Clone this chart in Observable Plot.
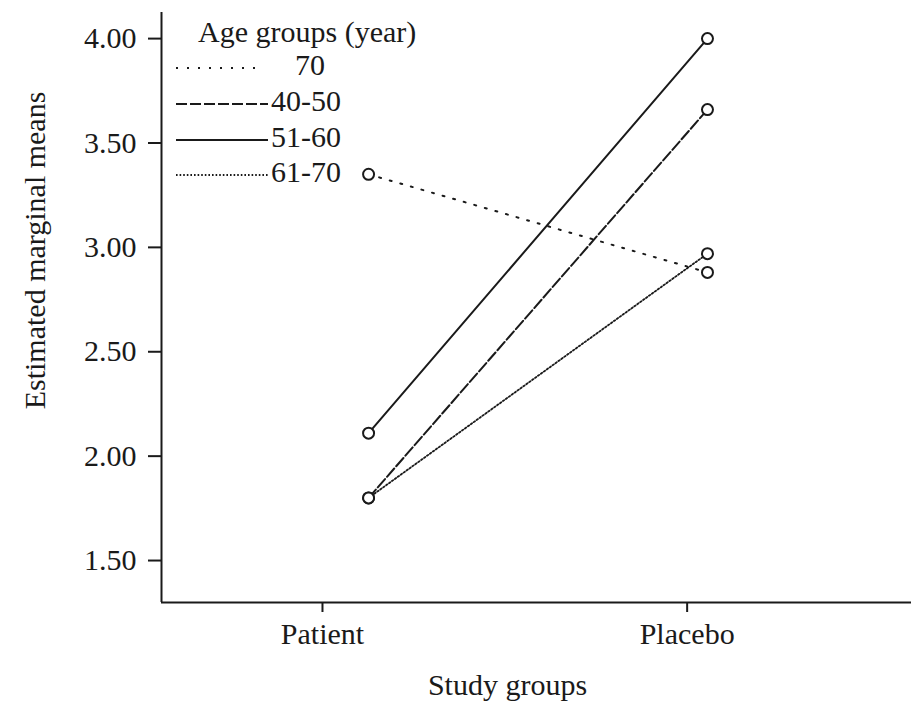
<!DOCTYPE html>
<html><head><meta charset="utf-8">
<script src="https://cdn.jsdelivr.net/npm/d3@7"></script>
<script src="https://cdn.jsdelivr.net/npm/@observablehq/plot@0.6"></script>
<style>
body{margin:0;background:#fff;}
#wrap{position:relative;width:911px;height:707px;font-family:"Liberation Serif","Times New Roman",serif;}
#legend{position:absolute;left:0;top:0;pointer-events:none;}
</style></head><body><div id="wrap"></div>
<script>
// ---- data ----
const studyGroups = ["Patient", "Placebo"];
const ageGroups = ["70", "40-50", "51-60", "61-70"];
const patientMeans = [3.35, 1.80, 2.11, 1.80];
const placeboMeans = [2.88, 3.66, 4.00, 2.97];
const yTickValues = [1.5, 2.0, 2.5, 3.0, 3.5, 4.0];
const legendTitle = "Age groups (year)";
const xLabel = "Study groups";
const yLabel = "Estimated marginal means";

// ---- styles ----
const ink = "#1a1a1a";
const FONT = '"Liberation Serif","Times New Roman",serif';
const FS = 30;
const seriesStyle = {
  "70":    {dash: "2,9",   width: 2},
  "40-50": {dash: "11,3",  width: 2},
  "51-60": {dash: null,    width: 2},
  "61-70": {dash: "1.6,2", width: 1.8}
};

const rows = [];
ageGroups.forEach((a, i) => {
  rows.push({age: a, group: 0, mean: patientMeans[i]});
  rows.push({age: a, group: 1, mean: placeboMeans[i]});
});

const xDomain = [-0.611, 1.602];
const yDomain = [1.299, 4.125];
const xTickPos = [-0.136, 0.94]; // SPSS axis tick placement relative to the plotted points

const lines = ageGroups.map(a => Plot.line(rows.filter(r => r.age === a), {
  x: "group", y: "mean", stroke: ink,
  strokeWidth: seriesStyle[a].width,
  strokeDasharray: seriesStyle[a].dash || undefined
}));

const chart = Plot.plot({
  width: 911, height: 707,
  marginLeft: 161, marginRight: 0, marginTop: 12, marginBottom: 105,
  style: {fontFamily: FONT, fontSize: FS + "px", color: ink, background: "#fff"},
  x: {domain: xDomain},
  y: {domain: yDomain},
  marks: [
    Plot.ruleX([xDomain[0]], {stroke: ink, strokeWidth: 2}),
    Plot.ruleY([yDomain[0]], {stroke: ink, strokeWidth: 2}),
    Plot.axisY(yTickValues, {tickFormat: d3.format(".2f"), tickSize: 13, tickPadding: 12,
      strokeWidth: 2, stroke: ink, fill: ink, fontSize: FS, label: null}),
    Plot.axisX(xTickPos, {tickFormat: d => studyGroups[xTickPos.indexOf(d)], tickSize: 10, tickPadding: 10,
      strokeWidth: 2, stroke: ink, fill: ink, fontSize: FS, label: null}),
    ...lines,
    Plot.dot(rows, {x: "group", y: "mean", r: 5.5, stroke: ink, fill: "white", strokeWidth: 2}),
    Plot.text([yLabel], {frameAnchor: "left", textAnchor: "middle", lineAnchor: "middle",
      rotate: -90, dx: -126, dy: -57, fontSize: FS, fill: ink}),
    Plot.text([xLabel], {frameAnchor: "bottom", textAnchor: "middle", lineAnchor: "middle",
      dx: -29, dy: 83, fontSize: FS, fill: ink})
  ]
});
const wrap = document.getElementById("wrap");
wrap.appendChild(chart);

// ---- legend overlay ----
const ns = "http://www.w3.org/2000/svg";
const leg = document.createElementNS(ns, "svg");
leg.setAttribute("id", "legend");
leg.setAttribute("width", 911);
leg.setAttribute("height", 707);
leg.style.fontFamily = FONT;
leg.style.fontSize = FS + "px";
function el(tag, attrs, txt) {
  const e = document.createElementNS(ns, tag);
  for (const k in attrs) e.setAttribute(k, attrs[k]);
  if (txt != null) e.textContent = txt;
  leg.appendChild(e);
  return e;
}
el("text", {x: 198, y: 42, fill: ink}, legendTitle);
const rowBase = [75, 111, 147, 182];
ageGroups.forEach((a, i) => {
  const s = seriesStyle[a];
  const ly = rowBase[i] - 7;
  const x2 = a === "70" ? 260 : 268;
  const attrs = {x1: 176, x2: x2, y1: ly, y2: ly, stroke: ink, "stroke-width": s.width};
  if (s.dash) attrs["stroke-dasharray"] = s.dash;
  el("line", attrs);
  el("text", {x: a === "70" ? 295 : 271, y: rowBase[i], fill: ink}, a);
});
wrap.appendChild(leg);
</script>
</body></html>
